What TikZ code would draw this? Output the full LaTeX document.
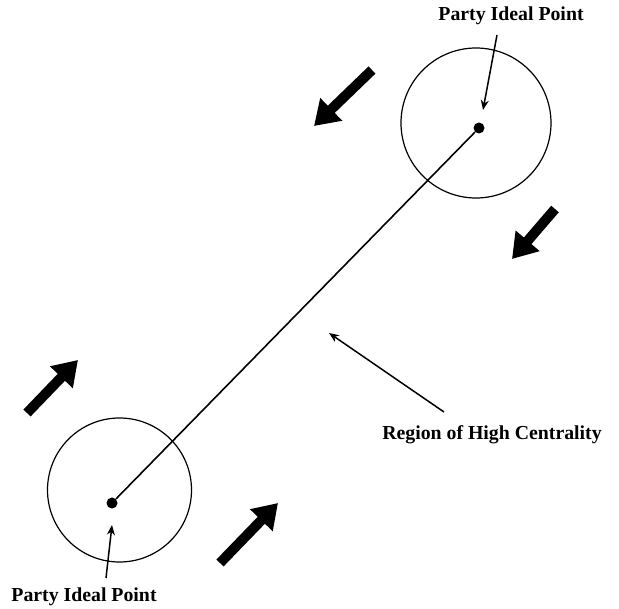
\documentclass[tikz,border=0pt]{standalone}
\usepackage{fontspec}
\setmainfont{Liberation Serif}
\usetikzlibrary{arrows.meta,positioning}
\tikzset{
  idealdot/.style={circle, fill=black, inner sep=0pt, minimum size=11pt},
  zone/.style={circle, draw=black, line width=1.2pt, minimum size=#1},
  lbl/.style={font=\fontsize{19.8}{23}\selectfont\bfseries, inner sep=0pt},
  pointer/.style={-{Stealth[length=10pt,width=8pt]}, line width=1.5pt},
  push/.style={-{Triangle[length=24pt,width=30pt]}, line width=10pt},
  spine/.style={line width=1.6pt}
}
\begin{document}
\begin{tikzpicture}[x=1pt,y=-1pt]
\useasboundingbox (0,0) rectangle (619,609);
% the two parties
\node[zone=150pt] (zoneA) at (476,123) {};
\node[zone=144pt] (zoneB) at (119.5,490) {};
\node[idealdot] (dotA) at (479,128) {};
\node[idealdot] (dotB) at (112,503) {};
\draw[spine] (dotB) -- (dotA);
% labels
\node[lbl] (lblA) at (511,16) {Party Ideal Point};
\node[lbl] (lblB) at (84,597) {Party Ideal Point};
\node[lbl] (lblC) at (492,435) {Region of High Centrality};
\coordinate (tailA) at (497,35);
\coordinate (tipA) at (483,110);
\coordinate (tailB) at (106,578);
\coordinate (tipB) at (112,525);
\coordinate (tailC) at (444,412);
\coordinate (tipC) at (329,333);
\draw[pointer] (tailA) -- (tipA);
\draw[pointer] (tailB) -- (tipB);
\draw[pointer] (tailC) -- (tipC);
% pressure towards the centre
\coordinate (p1) at (372,70);
\coordinate (q1) at (314,126);
\coordinate (p2) at (555,209);
\coordinate (q2) at (512,259);
\coordinate (p3) at (27,413);
\coordinate (q3) at (78,360);
\coordinate (p4) at (220,563);
\coordinate (q4) at (278,503);
\draw[push] (p1) -- (q1);
\draw[push] (p2) -- (q2);
\draw[push] (p3) -- (q3);
\draw[push] (p4) -- (q4);
\end{tikzpicture}
\end{document}
